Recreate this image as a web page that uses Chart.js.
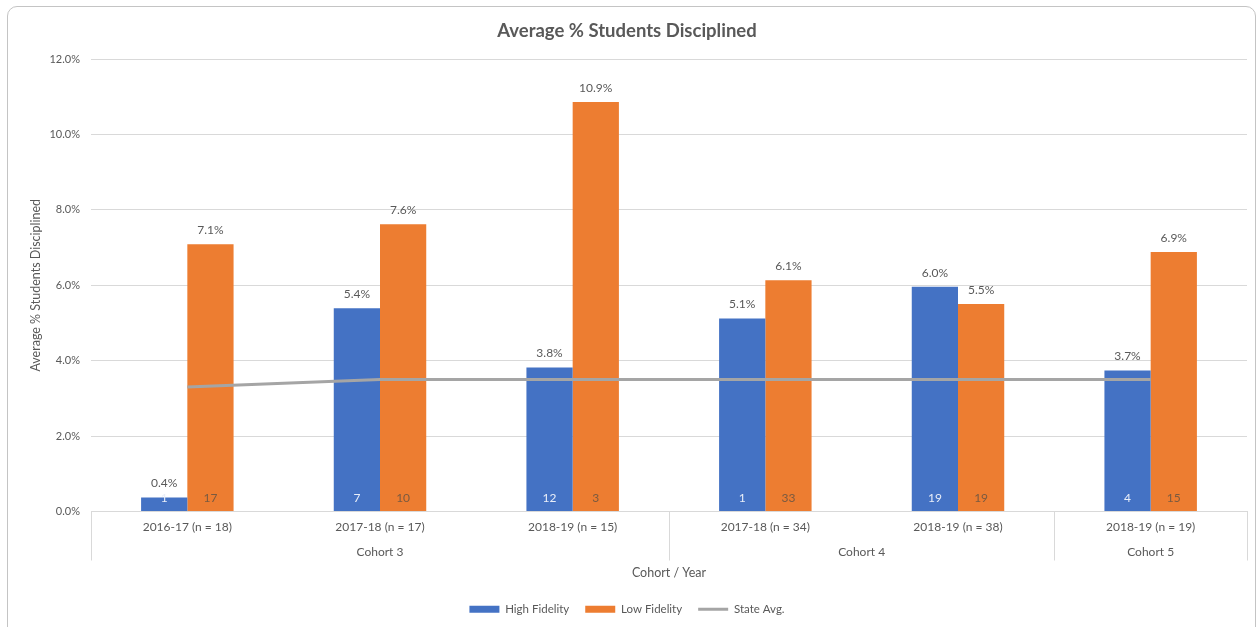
<!DOCTYPE html>
<html>
<head>
<meta charset="utf-8">
<script src="https://cdn.jsdelivr.net/npm/chart.js@4"></script>
<style>
  body { margin: 0; background: #fff; }
  #wrap { position: relative; width: 1258px; height: 627px; overflow: hidden; }
  #frame { position: absolute; left: 7px; top: 6px; width: 1247px; height: 700px; border: 1px solid #c4c4c4; border-radius: 10px; }
  canvas { position: absolute; left: 0; top: 0; }
</style>
</head>
<body>
<div id="wrap">
  <div id="frame"></div>
  <canvas id="chart" width="1258" height="627"></canvas>
</div>
<script>
// datos
const categories = ['2016-17 (n = 18)', '2017-18 (n = 17)', '2018-19 (n = 15)', '2017-18 (n = 34)', '2018-19 (n = 38)', '2018-19 (n = 19)'];
const cohorts = ['Cohort 3', 'Cohort 4', 'Cohort 5'];
const cohortSizes = [3, 2, 1];
const highFidelity = [0.37, 5.39, 3.82, 5.12, 5.96, 3.74];
const lowFidelity = [7.09, 7.62, 10.86, 6.13, 5.50, 6.88];
const stateAvg = [3.3, 3.5, 3.5, 3.5, 3.5, 3.5];
const highCounts = [1, 7, 12, 1, 19, 4];
const lowCounts = [17, 10, 3, 33, 19, 15];

const FONT = 'Lato, "Open Sans", sans-serif';
const TEXT = '#595959';

// etiquetas de valores, conteos y eje de dos niveles
const extras = {
    id: 'extras',
    afterDatasetsDraw(chart) {
        const ctx = chart.ctx;
        ctx.save();
        ctx.textAlign = 'center';
        ctx.textBaseline = 'middle';
        ctx.font = '12px ' + FONT;
        [[0, highCounts, '#e9eef8'], [1, lowCounts, '#7a5a40']].forEach(([di, counts, col]) => {
            const meta = chart.getDatasetMeta(di);
            meta.data.forEach((bar, i) => {
                ctx.fillStyle = TEXT;
                ctx.fillText(chart.data.datasets[di].data[i].toFixed(1) + '%', bar.x, bar.y - 14);
                ctx.fillStyle = col;
                ctx.fillText(counts[i], bar.x, bar.base - 13);
            });
        });
        ctx.restore();
    },
    afterDraw(chart) {
        const ctx = chart.ctx;
        const x = chart.scales.x;
        const area = chart.chartArea;
        const step = (area.right - area.left) / categories.length;
        ctx.save();
        ctx.strokeStyle = '#d9d9d9';
        ctx.lineWidth = 1;
        ctx.fillStyle = TEXT;
        ctx.font = '12px ' + FONT;
        ctx.textAlign = 'center';
        ctx.textBaseline = 'middle';
        let start = 0;
        const edges = [area.left];
        cohortSizes.forEach((n, k) => {
            const a = x.getPixelForValue(start);
            const b = x.getPixelForValue(start + n - 1);
            ctx.fillText(cohorts[k], (a + b) / 2, area.bottom + 41);
            start += n;
            edges.push(x.getPixelForValue(start - 1) + step / 2);
        });
        edges.forEach(px => {
            const p = Math.round(px) + 0.5;
            ctx.beginPath();
            ctx.moveTo(p, area.bottom);
            ctx.lineTo(p, area.bottom + 49);
            ctx.stroke();
        });
        ctx.restore();
    }
};

const ctx = document.getElementById('chart').getContext('2d');
const chart = new Chart(ctx, {
    data: {
        labels: categories,
        datasets: [
            {
                type: 'bar',
                label: 'High Fidelity',
                data: highFidelity,
                backgroundColor: '#4472c4',
                categoryPercentage: 0.48,
                barPercentage: 1,
                order: 2
            },
            {
                type: 'bar',
                label: 'Low Fidelity',
                data: lowFidelity,
                backgroundColor: '#ed7d31',
                categoryPercentage: 0.48,
                barPercentage: 1,
                order: 2
            },
            {
                type: 'line',
                label: 'State Avg.',
                data: stateAvg,
                borderColor: '#a5a5a5',
                backgroundColor: '#a5a5a5',
                borderWidth: 3,
                pointRadius: 0,
                tension: 0,
                order: 1 // la línea va encima de las barras
            }
        ]
    },
    options: {
        responsive: false,
        animation: false,
        devicePixelRatio: 1,
        layout: { padding: { left: 7, right: 11, top: 0, bottom: 2 } },
        plugins: {
            tooltip: { enabled: false },
            title: {
                display: true,
                text: 'Average % Students Disciplined',
                color: TEXT,
                font: { family: FONT, size: 18.5, weight: 'bold' },
                padding: { top: 19.5, bottom: 17.3 }
            },
            legend: {
                position: 'bottom',
                labels: {
                    color: TEXT,
                    font: { family: FONT, size: 11.5 },
                    usePointStyle: true,
                    pointStyleWidth: 30,
                    boxHeight: 7,
                    padding: 16,
                    generateLabels(chart) {
                        return chart.data.datasets.map((ds, i) => ({
                            text: ds.label,
                            datasetIndex: i,
                            fillStyle: ds.backgroundColor,
                            strokeStyle: ds.type === 'line' ? ds.borderColor : ds.backgroundColor,
                            lineWidth: ds.type === 'line' ? 3 : 0,
                            pointStyle: ds.type === 'line' ? 'line' : 'rect',
                            fontColor: TEXT,
                            hidden: false
                        }));
                    }
                }
            }
        },
        scales: {
            x: {
                afterFit(scale) { scale.height = 76; },
                grid: { display: false, drawTicks: false },
                border: { display: true, color: '#d9d9d9' },
                ticks: { color: TEXT, font: { family: FONT, size: 12 }, padding: 8, maxRotation: 0 },
                title: {
                    display: true,
                    text: 'Cohort / Year',
                    color: TEXT,
                    font: { family: FONT, size: 12.5 },
                    padding: { top: 0, bottom: 7.5 }
                }
            },
            y: {
                min: 0,
                max: 12,
                afterFit(scale) { scale.width = 84; },
                grid: { color: '#d9d9d9', drawTicks: false },
                border: { display: false },
                ticks: {
                    stepSize: 2,
                    color: TEXT,
                    font: { family: FONT, size: 11 },
                    padding: 11,
                    callback: v => v.toFixed(1) + '%'
                },
                title: {
                    display: true,
                    text: 'Average % Students Disciplined',
                    color: TEXT,
                    font: { family: FONT, size: 12.5 },
                    padding: { top: 21.5, bottom: 0 }
                }
            }
        }
    },
    plugins: [extras]
});
</script>
</body>
</html>
